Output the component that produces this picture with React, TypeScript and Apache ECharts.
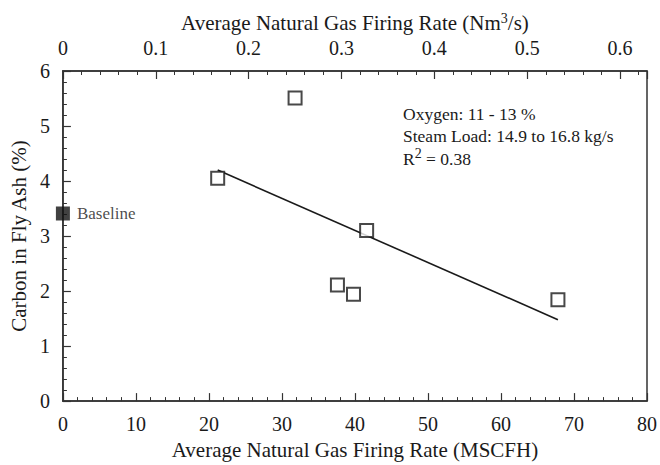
import React, { useEffect, useRef } from "react";
import * as echarts from "echarts";

// Data
const baselineX = [0];
const baselineY = [3.41];
const gasRateMSCFH = [21.2, 31.8, 41.6, 37.6, 39.8, 67.8];
const carbonPct = [4.05, 5.51, 3.1, 2.11, 1.94, 1.84];
const fitX = [21.2, 67.8];
const fitY = [4.2, 1.48];
const bottomTicks = { min: 0, max: 80, interval: 10 };
const topTicks = { min: 0, max: 0.629, interval: 0.1 };
const leftTicks = { min: 0, max: 6, interval: 1 };
const annotationLines = ["Oxygen: 11 - 13 %", "Steam Load: 14.9 to 16.8 kg/s"];
const rSquared = "0.38";

const FONT = "'Liberation Serif', 'Times New Roman', serif";
const INK = "#1a1a1a";

export default function App() {
  const ref = useRef<HTMLDivElement>(null);
  useEffect(() => {
    if (!ref.current) return;
    const chart = echarts.init(ref.current, null, { renderer: "svg" });
    const axisCommon = {
      axisLine: { show: true, lineStyle: { color: "#333", width: 1.5 } },
      axisTick: { show: true, inside: true, length: 8, lineStyle: { color: "#333", width: 1.2 } },
      minorTick: { show: true, splitNumber: 5, length: 4, lineStyle: { color: "#333", width: 1 } },
      splitLine: { show: false },
      minorSplitLine: { show: false },
      nameTextStyle: { fontFamily: FONT, fontSize: 21, color: INK },
    };
    chart.setOption({
      animation: false,
      backgroundColor: "#fff",
      textStyle: { fontFamily: FONT, color: INK },
      grid: {
        left: 61,
        right: 11,
        top: 71,
        bottom: 57,
        show: true,
        borderColor: "#333",
        borderWidth: 1.5,
        backgroundColor: "transparent",
      },
      xAxis: [
        {
          ...axisCommon,
          type: "value",
          position: "bottom",
          min: bottomTicks.min,
          max: bottomTicks.max,
          interval: bottomTicks.interval,
          name: "Average Natural Gas Firing Rate (MSCFH)",
          nameLocation: "middle",
          nameGap: 37,
          axisLabel: { fontFamily: FONT, fontSize: 20, color: INK, margin: 13 },
        },
        {
          ...axisCommon,
          type: "value",
          position: "top",
          min: topTicks.min,
          max: topTicks.max,
          interval: topTicks.interval,
          name: "Average Natural Gas Firing Rate (Nm{sup|3}/s)",
          nameLocation: "middle",
          nameGap: 35,
          nameTextStyle: {
            fontFamily: FONT,
            fontSize: 21,
            color: INK,
            rich: {
              sup: { fontFamily: FONT, fontSize: 14, color: INK, verticalAlign: "top", lineHeight: 22 },
            },
          },
          axisLabel: {
            fontFamily: FONT,
            fontSize: 20,
            color: INK,
            margin: 13,
            showMaxLabel: false,
            formatter: (v: number) =>
              Math.abs(v * 10 - Math.round(v * 10)) < 1e-6 ? String(+v.toFixed(1)) : "",
          },
        },
      ],
      yAxis: [
        {
          ...axisCommon,
          type: "value",
          min: leftTicks.min,
          max: leftTicks.max,
          interval: leftTicks.interval,
          name: "Carbon in Fly Ash (%)",
          nameLocation: "middle",
          nameGap: 27,
          axisLabel: { fontFamily: FONT, fontSize: 20, color: INK, margin: 13 },
        },
      ],
      series: [
        {
          type: "line",
          xAxisIndex: 0,
          yAxisIndex: 0,
          data: fitX.map((x, i) => [x, fitY[i]]),
          showSymbol: false,
          symbol: "none",
          lineStyle: { color: INK, width: 1.6 },
          z: 2,
        },
        {
          type: "scatter",
          xAxisIndex: 0,
          yAxisIndex: 0,
          data: gasRateMSCFH.map((x, i) => [x, carbonPct[i]]),
          symbol: "rect",
          symbolSize: 13,
          itemStyle: { color: "#fff", borderColor: INK, borderWidth: 2 },
          z: 3,
        },
        {
          type: "scatter",
          xAxisIndex: 0,
          yAxisIndex: 0,
          data: baselineX.map((x, i) => [x, baselineY[i]]),
          symbol: "rect",
          symbolSize: 14,
          itemStyle: { color: "#111" },
          label: {
            show: true,
            position: "right",
            distance: 7,
            formatter: "Baseline",
            fontFamily: FONT,
            fontSize: 17,
            color: INK,
          },
          clip: false,
          z: 4,
        },
      ],
      graphic: [
        {
          type: "text",
          left: 403,
          top: 103,
          style: {
            text: annotationLines.join("\n"),
            font: `17.5px ${FONT}`,
            fill: INK,
            lineHeight: 22,
          },
        },
        {
          type: "text",
          left: 403,
          top: 146,
          style: {
            text: `R{sup|2} = ${rSquared}`,
            font: `17.5px ${FONT}`,
            fill: INK,
            lineHeight: 25,
            rich: {
              sup: { font: `14px ${FONT}`, fill: INK, verticalAlign: "top", lineHeight: 25 },
            },
          },
        },
      ],
    });
    return () => chart.dispose();
  }, []);
  return (
    <div
      ref={ref}
      style={{ position: "fixed", left: 0, top: 0, width: 660, height: 465, background: "#fff" }}
    />
  );
}
